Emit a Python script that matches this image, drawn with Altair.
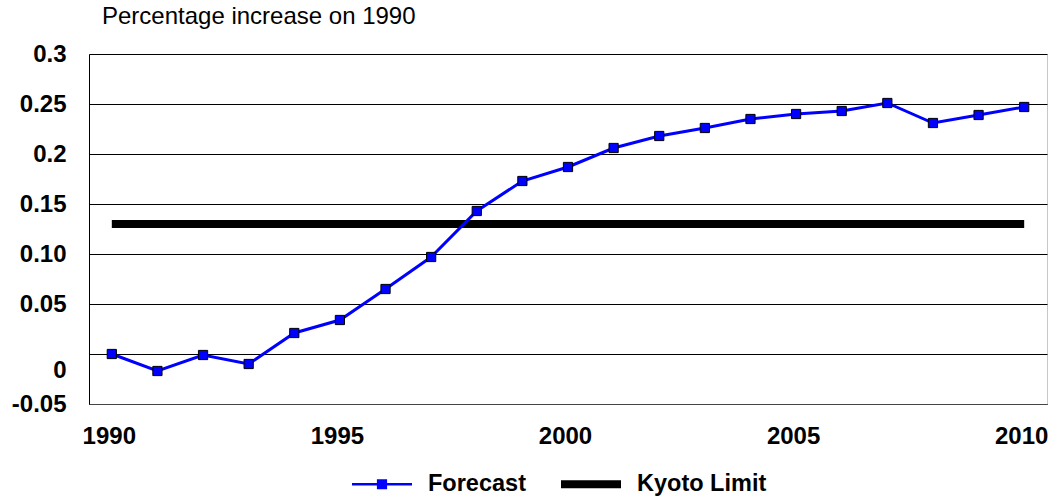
import altair as alt
import pandas as pd

# ---- data ----
years = list(range(1990, 2011))
forecast = [0.000, -0.017, -0.001, -0.010, 0.021, 0.034, 0.065, 0.097, 0.143,
            0.173, 0.187, 0.206, 0.218, 0.226, 0.235, 0.240, 0.243, 0.251,
            0.231, 0.239, 0.247]
kyoto_limit = 0.13
kyoto_start = 1990
kyoto_end = 2010

series_names = ["Forecast", "Kyoto Limit"]
series_colors = ["#0000FF", "#000000"]

y_ticks = [-0.05, 0, 0.05, 0.10, 0.15, 0.2, 0.25, 0.3]
y_tick_labels = ["-0.05", "0", "0.05", "0.10", "0.15", "0.2", "0.25", "0.3"]
x_label_years = [1990, 1995, 2000, 2005, 2010]
title_text = "Percentage increase on 1990"

FONT = "Liberation Sans"

df = pd.DataFrame({"year": years, "value": forecast})
kyoto_df = pd.DataFrame({"year": [kyoto_start], "end": [kyoto_end], "value": [kyoto_limit]})
legend_df = pd.DataFrame({"series": series_names})

label_list = "[" + ",".join("'" + s + "'" for s in y_tick_labels) + "]"
label_expr = label_list + "[round((datum.value + 0.05) / 0.05)]"

x_enc = alt.X(
    "year:O",
    scale=alt.Scale(type="point", padding=0.5),
    axis=alt.Axis(values=x_label_years, title=None, ticks=False, labelAngle=0,
                  labelFont=FONT, labelFontSize=24, labelFontWeight="bold",
                  labelColor="black", labelPadding=20, labelOffset=-3,
                  domainColor="#444444", grid=False),
)
y_enc = alt.Y(
    "value:Q",
    scale=alt.Scale(domain=[-0.05, 0.3], nice=False, zero=False),
    axis=alt.Axis(values=y_ticks, title=None, ticks=False, labelExpr=label_expr,
                  labelFont=FONT, labelFontSize=24, labelFontWeight="bold",
                  labelColor="black", labelPadding=23,
                  labelOffset={"condition": {"test": "datum.value === 0", "value": 16}, "value": 0},
                  domainColor="black", grid=True, gridColor="black", gridWidth=1),
)

kyoto = alt.Chart(kyoto_df).mark_rule(color="black", strokeWidth=8, strokeCap="butt").encode(
    x=x_enc, x2="end:O", y=y_enc
)

line = alt.Chart(df).mark_line(color="#0000FF", strokeWidth=3).encode(x=x_enc, y=y_enc)
points = alt.Chart(df).mark_point(shape="square", filled=True, fill="#0000FF",
                                  stroke="black", strokeWidth=1, size=85, opacity=1).encode(
    x=x_enc, y=y_enc
)

legend_paths = [
    "M-1,-0.045H1V0.045H-1Z M-0.17,-0.17H0.17V0.17H-0.17Z",
    "M-1,-0.13H1V0.13H-1Z",
]
leg = alt.Legend(orient="none", legendX=263, legendY=400, direction="horizontal",
                 title=None, padding=0, symbolSize=3600, symbolStrokeWidth=0,
                 symbolOpacity=1, labelFont=FONT, labelFontSize=23.5,
                 labelFontWeight="bold", labelColor="black", labelOffset=16,
                 columnPadding=35)
legend_layer = alt.Chart(legend_df).transform_filter("false").mark_point(
    filled=True, opacity=1
).encode(
    color=alt.Color("series:N", scale=alt.Scale(domain=series_names, range=series_colors), legend=leg),
    shape=alt.Shape("series:N", scale=alt.Scale(domain=series_names, range=legend_paths), legend=leg),
)

chart = alt.layer(kyoto, line, points, legend_layer).properties(
    width=958,
    height=350,
    padding={"left": 89, "top": 54, "right": 13, "bottom": 96},
    autosize=alt.AutoSizeParams(type="none"),
    title=alt.TitleParams(title_text, anchor="start", frame="group", dx=13,
                          font=FONT, fontSize=24, fontWeight="normal",
                          color="black", baseline="alphabetic", offset=-6),
).configure_view(stroke="#c8c8c8", strokeWidth=1)

chart.save("out.html", embed_options={"renderer": "svg", "actions": False})
